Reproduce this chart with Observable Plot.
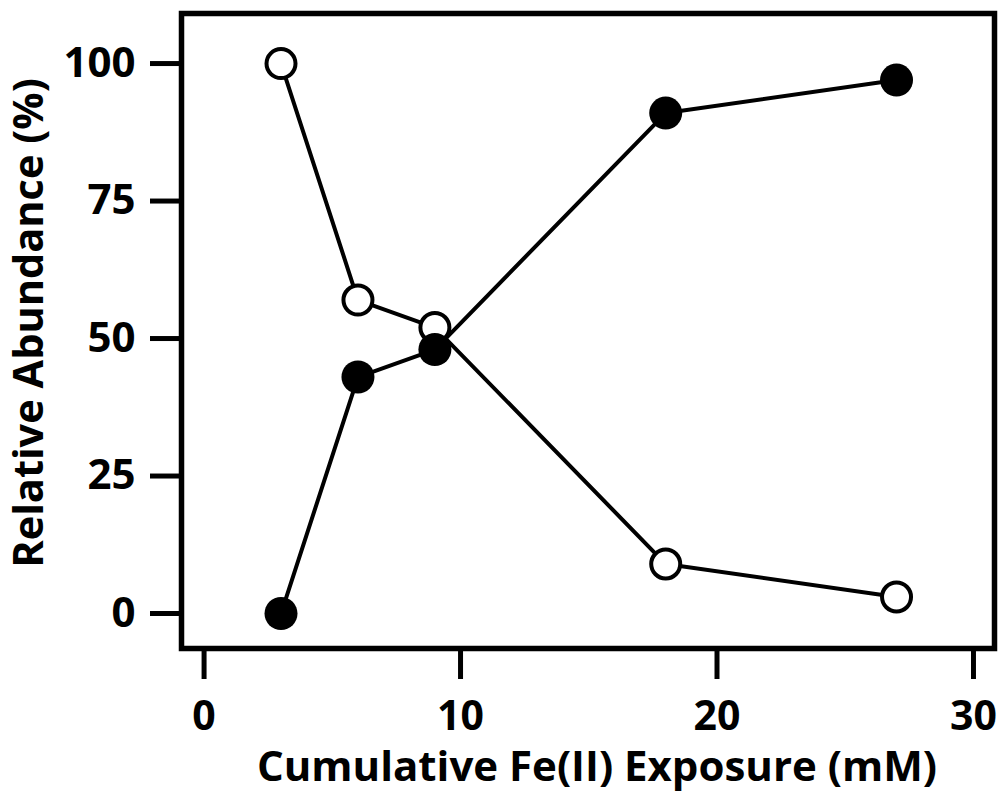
<!DOCTYPE html>
<html>
<head>
<meta charset="utf-8">
<script src="https://cdn.jsdelivr.net/npm/d3@7"></script>
<script src="https://cdn.jsdelivr.net/npm/@observablehq/plot@0.6"></script>
<style>
  html, body { margin: 0; padding: 0; background: #fff; }
  #chart svg { display: block; }
</style>
</head>
<body>
<div id="chart"></div>
<script>
const exposure = [3, 6, 9, 18, 27];
const openSeries = [100, 57, 52, 9, 3];
const filledSeries = [0, 43, 48, 91, 97];
const xTicks = [0, 10, 20, 30];
const yTicks = [0, 25, 50, 75, 100];
const xTitle = "Cumulative Fe(II) Exposure (mM)";
const yTitle = "Relative Abundance (%)";

const openData = exposure.map((x, i) => ({x, y: openSeries[i]}));
const filledData = exposure.map((x, i) => ({x, y: filledSeries[i]}));

const font = "'Open Sans', sans-serif";
const chart = Plot.plot({
  width: 998,
  height: 797,
  marginLeft: 181,
  marginTop: 13,
  marginRight: 4,
  marginBottom: 149,
  style: {fontFamily: font, fontWeight: "bold", background: "#fff", color: "#000"},
  x: {domain: [-0.88, 30.82]},
  y: {domain: [-6.36, 109.1]},
  marks: [
    Plot.axisX({ticks: xTicks, tickSize: 31, tickPadding: 21, strokeWidth: 5, fontSize: 41, fontWeight: "bold", label: null}),
    Plot.axisY({ticks: yTicks, tickSize: 31, tickPadding: 15, strokeWidth: 5, fontSize: 42, fontWeight: "bold", label: null}),
    Plot.text([xTitle], {frameAnchor: "bottom", dy: 132, dx: 9, fontSize: 42, fontWeight: "bold", lineAnchor: "bottom", textAnchor: "middle", text: d => d}),
    Plot.text([yTitle], {frameAnchor: "left", dx: -152, dy: -8, rotate: -90, fontSize: 41.5, fontWeight: "bold", lineAnchor: "middle", textAnchor: "middle", text: d => d}),
    Plot.frame({stroke: "#000", strokeWidth: 5.5}),
    Plot.line(openData, {x: "x", y: "y", stroke: "#000", strokeWidth: 4}),
    Plot.dot(openData, {x: "x", y: "y", r: 14.5, fill: "#fff", stroke: "#000", strokeWidth: 4}),
    Plot.line(filledData, {x: "x", y: "y", stroke: "#000", strokeWidth: 4}),
    Plot.dot(filledData, {x: "x", y: "y", r: 16.5, fill: "#000", stroke: "none"})
  ]
});
document.getElementById("chart").appendChild(chart);
</script>
</body>
</html>
